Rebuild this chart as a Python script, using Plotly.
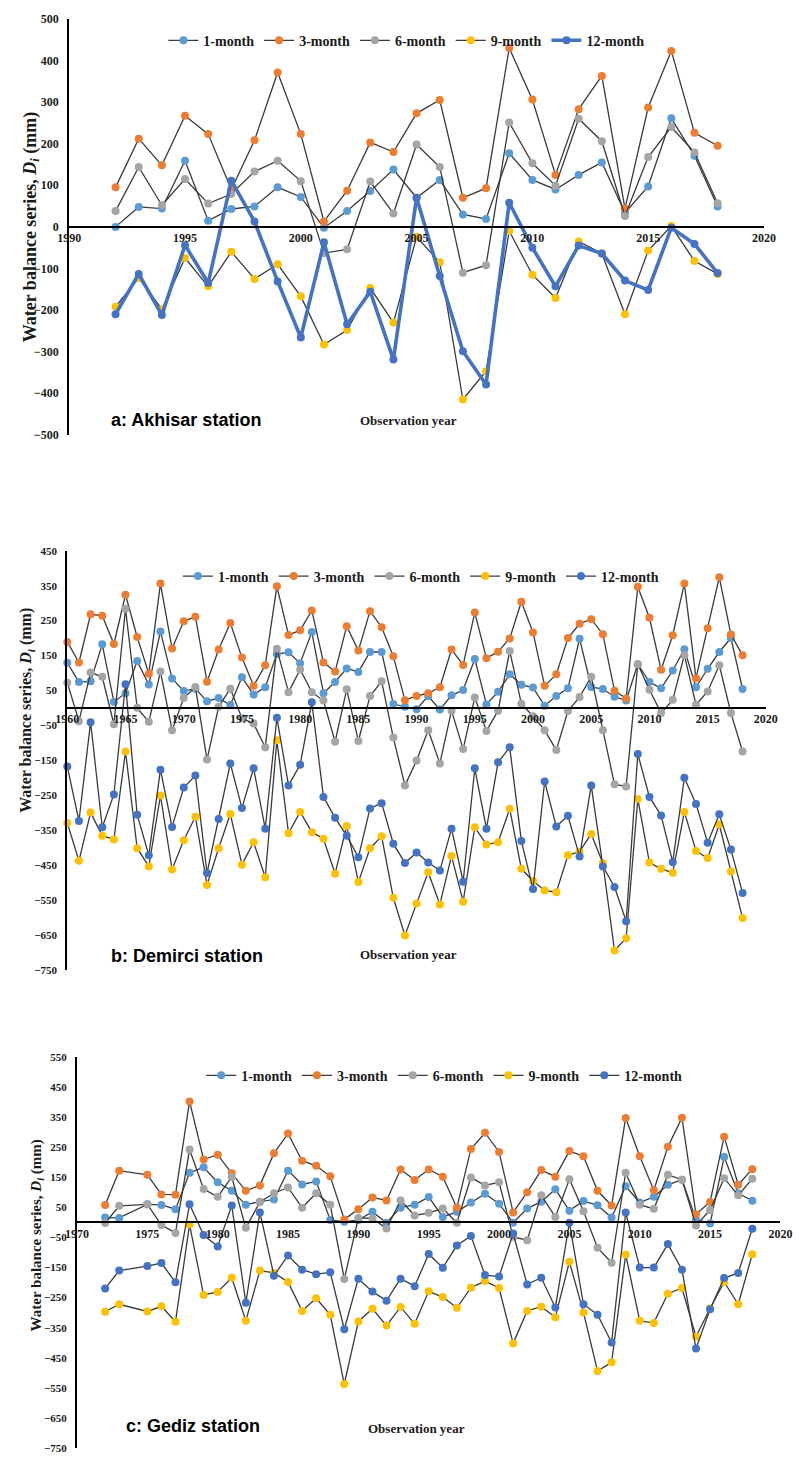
import plotly.graph_objects as go

W, H = 806, 1466

SERIES = ["1-month", "3-month", "6-month", "9-month", "12-month"]
MARKER_COLORS = ["#5B9BD5", "#ED7D31", "#A5A5A5", "#FFC000", "#4472C4"]
LINE_COLOR = "#3a3a3a"
SERIF = "Liberation Serif"
SANS = "Liberation Sans"

# ---- a: Akhisar station ----
akhisar_years = list(range(1992, 2019))
akhisar_1m = [0, 48, 44, 159, 15, 43, 49, 95, 72, -2, 38, 86, 138, 70, 113, 30, 19,
              177, 113, 90, 125, 155, 34, 97, 261, 171, 49]
akhisar_3m = [95, 212, 148, 267, 223, 90, 208, 371, 223, 13, 87, 203, 180, 273, 305, 70, 93,
              430, 306, 125, 283, 363, 44, 287, 423, 226, 195]
akhisar_6m = [38, 144, 52, 115, 56, 79, 133, 159, 110, -63, -54, 109, 32, 198, 144, -110, -92,
              251, 153, 99, 260, 206, 26, 168, 240, 179, 57]
akhisar_9m = [-192, -123, -198, -75, -143, -60, -125, -90, -167, -283, -248, -147, -230, -24, -85,
              -415, -347, -10, -115, -171, -35, -64, -210, -57, 2, -82, -113]
akhisar_12m = [-210, -113, -212, -44, -135, 111, 13, -131, -266, -37, -234, -156, -319, 70, -118,
               -299, -379, 58, -50, -143, -45, -64, -129, -152, -2, -41, -111]

# ---- b: Demirci station ----
demirci_years = list(range(1960, 2019))
demirci_1m = [129, 74, 76, 182, 17, 42, 134, 67, 219, 84, 48, 55, 19, 28, 8, 88, 38, 59, 154, 159,
              128, 217, 42, 74, 113, 103, 160, 160, 11, 3, -4, 34, -5, 36, 51, 140, 10, 46, 96, 66,
              58, 6, 34, 56, 198, 60, 54, 32, 21, 125, 74, 56, 107, 168, 59, 112, 160, 200, 54]
demirci_3m = [189, 130, 268, 264, 183, 324, 203, 98, 356, 170, 248, 261, 75, 167, 243, 144, 63, 122,
              348, 209, 222, 279, 130, 104, 234, 164, 277, 231, 148, 22, 34, 42, 59, 167, 123, 273,
              142, 161, 199, 304, 216, 63, 96, 200, 241, 254, 211, 49, 27, 347, 258, 109, 208, 356,
              85, 228, 374, 210, 151]
demirci_6m = [72, -38, 101, 89, -47, 284, 0, -40, 104, -64, 28, 60, -148, 3, 55, -30, -45, -113, 169,
              45, 110, 45, 21, -97, 53, -95, 34, 76, -85, -222, -151, -64, -159, -8, -118, 30, -66,
              -8, 163, 12, -24, -64, -121, -9, 31, 89, -64, -219, -225, 125, 52, -15, 23, 151, 9, 47,
              122, -15, -125]
demirci_9m = [-330, -438, -300, -366, -377, -125, -402, -454, -251, -463, -379, -312, -507, -402, -304,
              -449, -385, -485, -93, -359, -298, -356, -375, -475, -338, -499, -402, -368, -544, -652,
              -560, -471, -563, -424, -555, -342, -391, -385, -289, -461, -496, -523, -528, -422, -412,
              -361, -445, -695, -660, -261, -443, -461, -472, -298, -410, -430, -334, -469, -602]
demirci_12m = [-168, -324, -41, -342, -248, 68, -306, -422, -177, -341, -228, -194, -473, -318, -159,
               -287, -173, -346, -28, -222, -163, 16, -255, -315, -366, -428, -288, -273, -389, -444,
               -414, -443, -466, -346, -498, -173, -346, -156, -113, -381, -519, -211, -340, -309,
               -426, -222, -454, -513, -611, -132, -255, -308, -442, -200, -275, -386, -305, -406, -530]

# ---- c: Gediz station (no record for 1974) ----
gediz_years = [1972, 1973] + list(range(1975, 2019))
gediz_1m = [16, 15, 60, 58, 44, 165, 183, 133, 105, 59, 69, 76, 172, 126, 136, 8, 2, 8, 35, -1, 49,
            59, 84, 18, 35, 66, 95, 62, -1, 46, 69, 110, 39, 71, 57, 16, 120, 66, 85, 125, 142, 10,
            -4, 217, 97, 72]
gediz_3m = [58, 172, 158, 93, 92, 402, 209, 225, 163, 105, 123, 230, 295, 205, 188, 153, 10, 44, 83,
            73, 176, 141, 176, 152, 49, 244, 298, 234, 33, 100, 174, 152, 237, 220, 105, 56, 347,
            220, 107, 251, 348, 27, 68, 285, 125, 177]
gediz_6m = [-2, 55, 60, -9, -35, 242, 111, 85, 151, -18, 68, 97, 116, 49, 97, 59, -188, 15, 13, -20,
            73, 23, 32, 46, -1, 149, 123, 133, -48, -59, 90, 18, 143, 37, -84, -134, 165, 59, 45,
            158, 142, -10, 41, 147, 90, 145]
gediz_9m = [-297, -272, -296, -279, -330, -7, -241, -231, -184, -327, -160, -168, -198, -294, -252,
            -307, -537, -329, -287, -343, -281, -337, -229, -248, -284, -217, -195, -218, -402, -294,
            -280, -315, -131, -299, -494, -465, -107, -327, -334, -237, -218, -379, -286, -198, -272,
            -106]
gediz_12m = [-220, -160, -145, -135, -199, 60, -42, -80, 56, -267, 33, -177, -110, -157, -172, -166,
             -355, -187, -230, -260, -187, -212, -105, -151, -77, -45, -175, -180, -37, -206, -184,
             -283, -1, -272, -307, -399, 33, -150, -150, -72, -157, -419, -289, -185, -168, -21]

panels = [
    dict(years=akhisar_years,
         values=[akhisar_1m, akhisar_3m, akhisar_6m, akhisar_9m, akhisar_12m],
         xr=(1990, 2020), yr=(-500, 500), px_x=(59, 775), px_y=(12, 432),
         label="a: Akhisar station", label_xy=(100, 417), obs_xy=(409, 417),
         ytitle_xy=(20, 222), ytitle_size=18, legend_xy=(156, 34), thick12=True, ysize=12),
    dict(years=demirci_years,
         values=[demirci_1m, demirci_3m, demirci_6m, demirci_9m, demirci_12m],
         xr=(1960, 2020), yr=(-750, 450), px_x=(57, 777), px_y=(549, 972),
         label="b: Demirci station", label_xy=(100, 958), obs_xy=(409, 957),
         ytitle_xy=(15, 710), ytitle_size=16, legend_xy=(171, 575), thick12=False, ysize=11),
    dict(years=gediz_years,
         values=[gediz_1m, gediz_3m, gediz_6m, gediz_9m, gediz_12m],
         xr=(1970, 2020), yr=(-750, 550), px_x=(67, 792), px_y=(1060, 1455),
         label="c: Gediz station", label_xy=(115, 1433), obs_xy=(417, 1435),
         ytitle_xy=(26, 1240), ytitle_size=15, legend_xy=(195, 1079), thick12=False, ysize=11),
]

fig = go.Figure()
layout = dict(
    width=W, height=H,
    margin=dict(l=0, r=0, t=0, b=0),
    paper_bgcolor="white", plot_bgcolor="white",
    annotations=[],
)

for i, p in enumerate(panels, start=1):
    sfx = "" if i == 1 else str(i)
    xd = [p["px_x"][0] / W, p["px_x"][1] / W]
    yd = [1 - p["px_y"][1] / H, 1 - p["px_y"][0] / H]
    ymin, ymax = p["yr"]
    # the year axis crosses the value axis at zero
    zero_pos = yd[0] + (0 - ymin) / (ymax - ymin) * (yd[1] - yd[0])
    leg = "legend" + sfx

    for name, color, vals in zip(SERIES, MARKER_COLORS, p["values"]):
        thick = p["thick12"] and name == "12-month"
        fig.add_trace(go.Scatter(
            x=p["years"], y=vals, name=name, mode="lines+markers",
            line=dict(color=color if thick else LINE_COLOR, width=3.6 if thick else 1.3),
            marker=dict(color=color, size=8),
            xaxis="x" + sfx, yaxis="y" + sfx, legend=leg, cliponaxis=False,
        ))

    layout["xaxis" + sfx] = dict(
        domain=xd, range=list(p["xr"]), anchor="free", position=zero_pos,
        showline=True, linecolor="black", linewidth=2, showgrid=False, zeroline=False,
        tickmode="linear", tick0=p["xr"][0], dtick=5, ticks="",
        tickfont=dict(family=SERIF, size=12, color="#1a1a1a", weight="bold"),
    )
    layout["yaxis" + sfx] = dict(
        domain=yd, range=list(p["yr"]), anchor="x" + sfx,
        showline=True, linecolor="black", linewidth=2, showgrid=False, zeroline=False,
        tickmode="linear", tick0=ymin, dtick=100, ticks="", ticklabelstandoff=6,
        tickfont=dict(family=SERIF, size=p["ysize"], color="#1a1a1a", weight="bold"),
    )
    layout[leg] = dict(
        orientation="h", x=p["legend_xy"][0] / W, y=1 - p["legend_xy"][1] / H,
        xanchor="left", yanchor="middle", bgcolor="rgba(0,0,0,0)",
        font=dict(family=SERIF, size=14, color="#1a1a1a", weight="bold"),
    )

    layout["annotations"] += [
        dict(text="<b>" + p["label"] + "</b>", x=p["label_xy"][0] / W, y=1 - p["label_xy"][1] / H,
             xref="paper", yref="paper", xanchor="left", yanchor="middle", showarrow=False,
             font=dict(family=SANS, size=18, color="black")),
        dict(text="<b>Observation year</b>", x=p["obs_xy"][0] / W, y=1 - p["obs_xy"][1] / H,
             xref="paper", yref="paper", xanchor="center", yanchor="middle", showarrow=False,
             font=dict(family=SERIF, size=13, color="#1a1a1a")),
        dict(text="<b>Water balance series, <i>D</i><sub><i>i</i></sub> (mm)</b>",
             x=p["ytitle_xy"][0] / W, y=1 - p["ytitle_xy"][1] / H, textangle=-90,
             xref="paper", yref="paper", xanchor="center", yanchor="middle", showarrow=False,
             font=dict(family=SERIF, size=p["ytitle_size"], color="#1a1a1a")),
    ]

fig.update_layout(**layout)
fig.write_html("out.html")
